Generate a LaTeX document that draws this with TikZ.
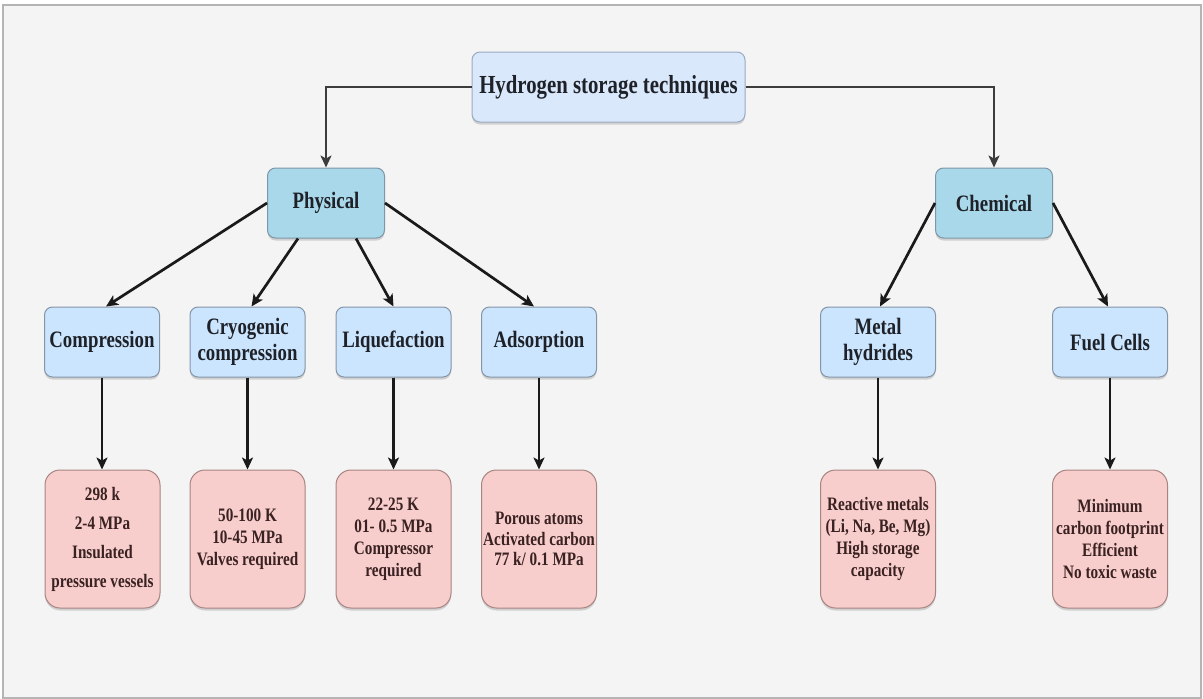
\documentclass[tikz,border=0pt]{standalone}
\usepackage{fontspec}
\setmainfont{Liberation Serif}[FakeStretch=0.8]
\usetikzlibrary{arrows.meta,shadows}
\definecolor{bgc}{HTML}{F4F4F4}
\definecolor{framec}{HTML}{B4B4B4}
\definecolor{topfill}{HTML}{DAE8FC}
\definecolor{topdraw}{HTML}{9AAAC4}
\definecolor{catfill}{HTML}{A9D8EA}
\definecolor{catdraw}{HTML}{7E97A8}
\definecolor{subfill}{HTML}{CCE5FF}
\definecolor{subdraw}{HTML}{8595A6}
\definecolor{detfill}{HTML}{F8CECC}
\definecolor{detdraw}{HTML}{A88482}
\definecolor{txt}{HTML}{1E2228}
\definecolor{dettxt}{HTML}{3A2222}
\definecolor{linec}{HTML}{1A1A1A}
\definecolor{toplinec}{HTML}{3C3C3C}
\tikzset{
  boxbase/.style={rounded corners=8pt, line width=1pt, align=center, inner sep=1pt, text=txt,
    drop shadow={shadow xshift=0pt, shadow yshift=-2.5pt, opacity=0.25, fill=black!60}},
  topbox/.style={boxbase, fill=topfill, draw=topdraw, minimum width=273pt, minimum height=70pt,
    font={\fontsize{26}{30}\selectfont\bfseries}},
  catbox/.style={boxbase, fill=catfill, draw=catdraw, minimum width=117pt, minimum height=70pt,
    font={\fontsize{23.5}{26}\selectfont\bfseries}},
  subbox/.style={boxbase, fill=subfill, draw=subdraw, minimum width=115pt, minimum height=70pt,
    font={\fontsize{23.5}{26}\selectfont\bfseries}},
  detbox/.style={boxbase, rounded corners=15pt, fill=detfill, draw=detdraw, text=dettxt,
    minimum width=115pt, minimum height=138pt,
    font={\fontsize{19}{22}\selectfont\bfseries}},
  arr/.style={draw=linec, line width=2.2pt, -{Stealth[length=12pt,width=11pt,inset=3pt]}},
  diagarr/.style={arr, line width=2.7pt},
  toparr/.style={arr, draw=toplinec, line width=2pt},
}
\begin{document}
\begin{tikzpicture}[x=1pt,y=-1pt]
\useasboundingbox (0,0) rectangle (1203,699);
\fill[white] (0,0) rectangle (1203,699);
\draw[fill=bgc, draw=framec, line width=1.2pt] (3,5) rectangle (1201,698);

\node[topbox] (top) at (608.5,87) {Hydrogen storage techniques};
\node[catbox] (phys) at (326,203) {Physical};
\node[catbox] (chem) at (994,203) {Chemical};

\node[subbox] (comp) at (102,342) {Compression};
\node[subbox] (cryo) at (247.5,342) {Cryogenic\\compression};
\node[subbox] (liq)  at (393.5,342) {Liquefaction};
\node[subbox] (ads)  at (539,342) {Adsorption};
\node[subbox] (metal) at (878,342) {Metal\\hydrides};
\node[subbox] (fuel) at (1110,342) {Fuel Cells};

\node[detbox, font={\fontsize{19}{29}\selectfont\bfseries}] (dcomp) at (102.5,539) {298 k\\2-4 MPa\\Insulated\\pressure vessels};
\node[detbox] (dcryo) at (247.5,539) {50-100 K\\10-45 MPa\\Valves required};
\node[detbox] (dliq) at (393.5,539) {22-25 K\\01- 0.5 MPa\\Compressor\\required};
\node[detbox, font={\fontsize{19}{20.5}\selectfont\bfseries}] (dads) at (539,539) {Porous atoms\\Activated carbon\\77 k/ 0.1 MPa};
\node[detbox] (dmetal) at (878,539) {Reactive metals\\(Li, Na, Be, Mg)\\High storage\\capacity};
\node[detbox] (dfuel) at (1110,539) {Minimum\\carbon footprint\\Efficient\\No toxic waste};

\draw[toparr] (top.west) -| (phys.north);
\draw[toparr] (top.east) -| (chem.north);

\draw[diagarr] (phys.west) -- ([xshift=4pt]comp.north);
\draw[diagarr] ([xshift=-28pt]phys.south) -- ([xshift=4pt]cryo.north);
\draw[diagarr] ([xshift=30pt]phys.south) -- (liq.north);
\draw[diagarr] (phys.east) -- ([xshift=-5pt]ads.north);

\draw[diagarr] (chem.west) -- ([xshift=2pt]metal.north);
\draw[diagarr] (chem.east) -- ([xshift=-2pt]fuel.north);

\draw[arr] (comp.south) -- (dcomp.north -| comp.south);
\draw[arr] (cryo.south) -- (dcryo.north);
\draw[arr] (liq.south) -- (dliq.north);
\draw[arr] (ads.south) -- (dads.north);
\draw[arr] (metal.south) -- (dmetal.north);
\draw[arr] (fuel.south) -- (dfuel.north);
\end{tikzpicture}
\end{document}
